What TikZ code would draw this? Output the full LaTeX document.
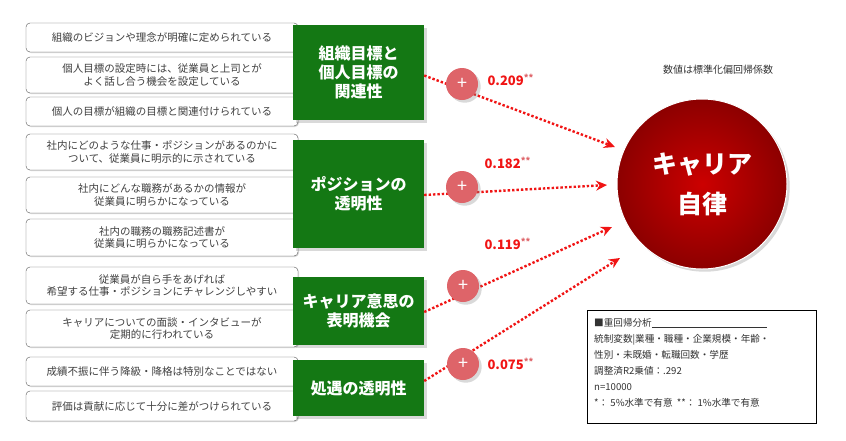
\documentclass[tikz,border=0pt]{standalone}
\usepackage{fontspec}
\setmainfont{Noto Sans CJK JP}
\usetikzlibrary{arrows.meta,shadows}
\definecolor{gbox}{RGB}{20,120,20}
\definecolor{redc}{RGB}{240,20,20}
\definecolor{pinkc}{RGB}{222,100,105}
\begin{document}
\begin{tikzpicture}[x=1pt,y=-1pt,
 item/.style={draw=gray!70!black,rounded corners=4pt,fill=white,drop shadow={shadow xshift=1pt,shadow yshift=-1pt,opacity=.3},minimum width=272pt,align=center,font=\fontsize{10.5}{12.5}\selectfont,text=black!75,inner sep=1pt},
 gbox/.style={fill=gbox,text=white,align=center,font=\bfseries\fontsize{16}{19}\selectfont,minimum width=131pt,drop shadow={opacity=.3}},
 plus/.style={circle,fill=pinkc,text=white,minimum size=32pt,font=\fontsize{18}{18}\selectfont,inner sep=0pt,drop shadow={opacity=.3}},
 coef/.style={text=redc,font=\bfseries\fontsize{13}{14}\selectfont,anchor=west},
 arr/.style={redc,line width=2.4pt,dotted,-{Stealth[length=11pt,width=10pt]}}]
\useasboundingbox (0,0) rectangle (846,440);
\node[item,minimum height=29pt] (i1) at (162,37.5) {組織のビジョンや理念が明確に定められている};
\node[item,minimum height=36pt] (i2) at (162,75) {個人目標の設定時には、従業員と上司とが\\よく話し合う機会を設定している};
\node[item,minimum height=29pt] (i3) at (162,111.5) {個人の目標が組織の目標と関連付けられている};
\node[item,minimum height=36pt] (i4) at (162,152) {社内にどのような仕事・ポジションがあるのかに\\ついて、従業員に明示的に示されている};
\node[item,minimum height=36pt] (i5) at (162,195) {社内にどんな職務があるかの情報が\\従業員に明らかになっている};
\node[item,minimum height=37pt] (i6) at (162,237.5) {社内の職務の職務記述書が\\従業員に明らかになっている};
\node[item,minimum height=37pt] (i7) at (162,285.5) {従業員が自ら手をあげれば\\希望する仕事・ポジションにチャレンジしやすい};
\node[item,minimum height=37pt] (i8) at (162,328.5) {キャリアについての面談・インタビューが\\定期的に行われている};
\node[item,minimum height=29pt] (i9) at (162,371.5) {成績不振に伴う降級・降格は特別なことではない};
\node[item,minimum height=30pt] (i10) at (162,406) {評価は貢献に応じて十分に差がつけられている};
\node[gbox,minimum height=95pt] (g1) at (358.5,72.5) {組織目標と\\個人目標の\\関連性};
\node[gbox,minimum height=108pt] (g2) at (358.5,194) {ポジションの\\透明性};
\node[gbox,minimum height=68pt] (g3) at (358.5,311) {キャリア意思の\\表明機会};
\node[gbox,minimum height=56pt] (g4) at (358.5,388) {処遇の透明性};
\node[circle,minimum size=170pt,inner sep=0pt,
  inner color=red!80!black,outer color=red!55!black,draw=white,line width=1pt,
  text=white,align=center,font=\bfseries\fontsize{25}{40}\selectfont,drop shadow={opacity=.3}] (c) at (702,184) {キャリア\\自律};
\node[font=\fontsize{10}{12}\selectfont,text=black!80] (hd) at (718,70) {数値は標準化偏回帰係数};
\coordinate (e1) at (615,147);
\coordinate (e2) at (607,185);
\coordinate (e3) at (612,227);
\coordinate (e4) at (620,258);
\draw[arr] ([yshift=-3pt]g1.east) -- (e1);
\draw[arr] ([yshift=-1pt]g2.east) -- (e2);
\draw[arr] ([yshift=-1pt]g3.east) -- (e3);
\draw[arr] ([yshift=7pt]g4.east) -- (e4);
\node[plus] (p1) at (462,84) {+};
\node[plus] (p2) at (462,187) {+};
\node[plus] (p3) at (463,286) {+};
\node[plus] (p4) at (463,364) {+};
\node[coef] (k1) at (484,80) {0.209\textcolor{pinkc}{\textsuperscript{**}}};
\node[coef] (k2) at (481,163) {0.182\textcolor{pinkc}{\textsuperscript{**}}};
\node[coef] (k3) at (481,244) {0.119\textcolor{pinkc}{\textsuperscript{**}}};
\node[coef] (k4) at (484,364) {0.075\textcolor{pinkc}{\textsuperscript{**}}};
\node[draw,line width=0.8pt,fill=white,minimum width=229pt,minimum height=113pt,anchor=north west,inner sep=0pt] (nb) at (587,310) {};
\node[anchor=north west,align=left,font=\fontsize{9.6}{16}\selectfont,text=black!80,inner sep=0pt] (nt) at (594,318) {■重回帰分析\underline{\hspace{115pt}}\\統制変数|業種・職種・企業規模・年齢・\\性別・未既婚・転職回数・学歴\\調整済R2乗値：.292\\n=10000\\*：\ 5\%水準で有意\ \ **：\ 1\%水準で有意};
\end{tikzpicture}
\end{document}
